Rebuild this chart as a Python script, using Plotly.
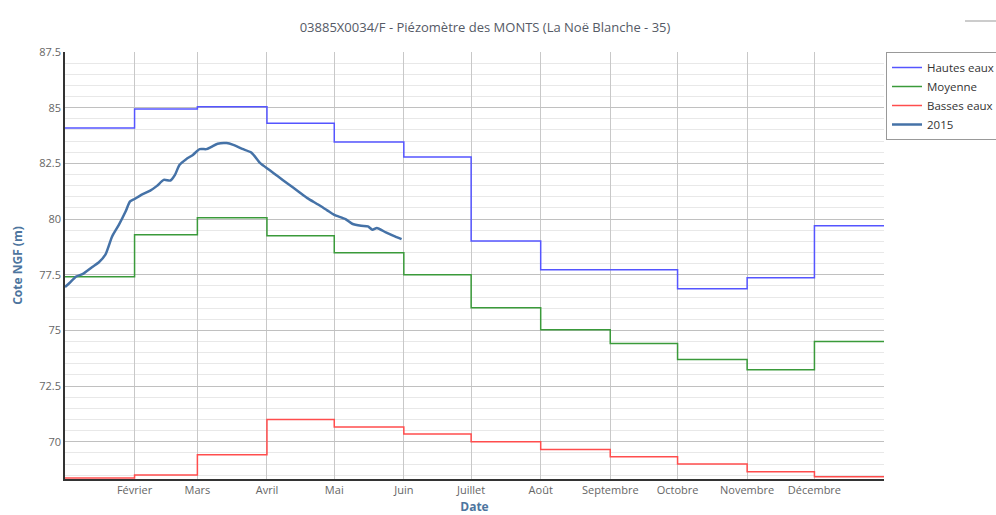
import plotly.graph_objects as go

# ---- data ----
month_starts = ["2015-01-01", "2015-02-01", "2015-03-01", "2015-04-01", "2015-05-01", "2015-06-01",
                "2015-07-01", "2015-08-01", "2015-09-01", "2015-10-01", "2015-11-01", "2015-12-01"]
year_end = "2015-12-31 23:59"

hautes_eaux = [84.09, 84.94, 85.04, 84.30, 83.46, 82.79, 79.02, 77.72, 77.72, 76.87, 77.37, 79.70]
moyenne = [77.41, 79.29, 80.06, 79.25, 78.49, 77.50, 76.02, 75.03, 74.41, 73.69, 73.24, 74.50]
basses_eaux = [68.37, 68.51, 69.42, 71.00, 70.67, 70.35, 70.00, 69.65, 69.33, 69.00, 68.65, 68.43]

dates_2015 = ["2015-01-01", "2015-01-03", "2015-01-06", "2015-01-09", "2015-01-13", "2015-01-16",
              "2015-01-19", "2015-01-22", "2015-01-25", "2015-01-28", "2015-01-30", "2015-02-01",
              "2015-02-04", "2015-02-08", "2015-02-11", "2015-02-14", "2015-02-17", "2015-02-19",
              "2015-02-21", "2015-02-24", "2015-02-27", "2015-03-02", "2015-03-05", "2015-03-07",
              "2015-03-10", "2015-03-14", "2015-03-17", "2015-03-21", "2015-03-25", "2015-03-29",
              "2015-04-02", "2015-04-06", "2015-04-10", "2015-04-15", "2015-04-19", "2015-04-24",
              "2015-04-28", "2015-05-01", "2015-05-06", "2015-05-09", "2015-05-13", "2015-05-16",
              "2015-05-18", "2015-05-20", "2015-05-24", "2015-05-28", "2015-05-31"]
values_2015 = [76.95, 77.13, 77.42, 77.54, 77.84, 78.05, 78.40, 79.22, 79.74, 80.34, 80.79, 80.90,
               81.09, 81.28, 81.49, 81.76, 81.73, 81.98, 82.43, 82.69, 82.88, 83.14, 83.14, 83.23,
               83.38, 83.41, 83.33, 83.15, 82.99, 82.51, 82.21, 81.91, 81.61, 81.24, 80.94, 80.64,
               80.38, 80.19, 80.00, 79.79, 79.70, 79.67, 79.52, 79.60, 79.40, 79.22, 79.10]

tick_dates = month_starts[1:]
tick_labels = ["Février", "Mars", "Avril", "Mai", "Juin", "Juillet", "Août",
               "Septembre", "Octobre", "Novembre", "Décembre"]

title_text = "03885X0034/F - Piézomètre des MONTS (La Noë Blanche - 35)"

FONT = "Open Sans, DejaVu Sans, sans-serif"

step_x = month_starts + [year_end]

fig = go.Figure()
fig.add_trace(go.Scatter(x=step_x, y=hautes_eaux + [hautes_eaux[-1]], mode="lines",
                         line=dict(color="#5555ff", width=1.5, shape="hv"), name="Hautes eaux"))
fig.add_trace(go.Scatter(x=step_x, y=moyenne + [moyenne[-1]], mode="lines",
                         line=dict(color="#3a9a3a", width=1.5, shape="hv"), name="Moyenne"))
fig.add_trace(go.Scatter(x=step_x, y=basses_eaux + [basses_eaux[-1]], mode="lines",
                         line=dict(color="#ff4d4d", width=1.5, shape="hv"), name="Basses eaux"))
fig.add_trace(go.Scatter(x=dates_2015, y=values_2015, mode="lines",
                         line=dict(color="#4572A7", width=2.5, shape="spline", smoothing=0.6),
                         name="2015"))

fig.update_layout(
    width=996, height=515,
    margin=dict(l=65, r=112, t=52, b=36, autoexpand=False),
    paper_bgcolor="white", plot_bgcolor="white",
    font=dict(family=FONT, size=11, color="#666666"),
    title=dict(text=title_text, x=0.487, xanchor="center", y=0.947, yanchor="middle",
               font=dict(family=FONT, size=13, color="#555a66")),
    legend=dict(x=(886 - 65) / 819, y=1.0, xanchor="left", yanchor="top",
                bordercolor="#999999", borderwidth=1, bgcolor="white",
                font=dict(family=FONT, size=11.5, color="#333333"),
                tracegroupgap=0, itemwidth=30),
    showlegend=True,
)

fig.update_xaxes(
    type="date", automargin=False,
    range=["2015-01-01", year_end],
    tickvals=tick_dates, ticktext=tick_labels,
    showgrid=True, gridcolor="#c8c8c8", gridwidth=1,
    showline=True, linecolor="#333333", linewidth=1.5,
    ticks="", tickfont=dict(size=11, color="#666666"),
    title=dict(text="<b>Date</b>", font=dict(size=12, color="#4d759e"), standoff=9),
    zeroline=False,
)
fig.update_yaxes(
    automargin=False,
    range=[68.33, 87.5],
    tickvals=[70, 72.5, 75, 77.5, 80, 82.5, 85, 87.5],
    ticktext=["70", "72.5", "75", "77.5", "80", "82.5", "85", "87.5"],
    showgrid=True, gridcolor="#c0c0c0", gridwidth=1,
    minor=dict(dtick=0.5, tick0=67.5, showgrid=True, gridcolor="#e8e8e8", gridwidth=1),
    showline=True, linecolor="#333333", linewidth=1.5,
    ticks="", tickfont=dict(size=11, color="#666666"),
    title=dict(text="<b>Cote NGF (m)</b>", font=dict(size=12, color="#4d759e"), standoff=14),
    zeroline=False,
)

fig.add_shape(type="line", xref="paper", yref="paper",
              x0=(965 - 65) / 819, x1=(996 - 65) / 819, y0=(515 - 36 - 21) / 427, y1=(515 - 36 - 21) / 427,
              line=dict(color="#bbbbbb", width=1.5))

fig.write_html("out.html", config={"displayModeBar": False},
               post_script="document.body.style.margin='0';document.body.style.overflow='hidden';")
